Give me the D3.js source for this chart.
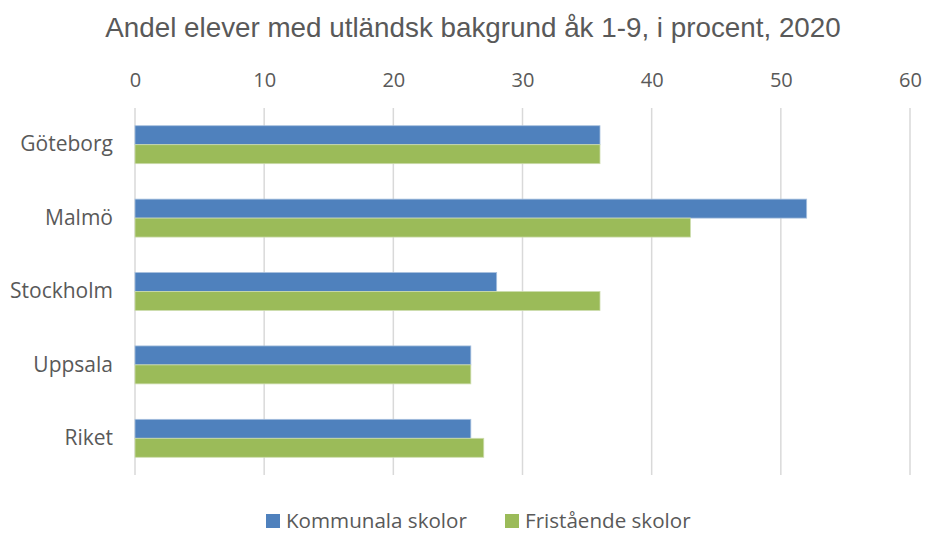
<!DOCTYPE html>
<html>
<head>
<meta charset="utf-8">
<script src="https://cdn.jsdelivr.net/npm/d3@7"></script>
<style>
  body { margin: 0; background: #fff; }
  text { font-family: "Open Sans", sans-serif; fill: #595959; }
</style>
</head>
<body>
<svg id="chart" width="925" height="535"></svg>
<script>
const cities = ["Göteborg", "Malmö", "Stockholm", "Uppsala", "Riket"];
const seriesNames = ["Kommunala skolor", "Fristående skolor"];
const kommunala = [36, 52, 28, 26, 26];
const fristaende = [36, 43, 36, 26, 27];
const xTicks = [0, 10, 20, 30, 40, 50, 60];
const colors = ["#4F81BD", "#9BBB59"];

const svg = d3.select("#chart"),
  margin = {top: 108, right: 15, bottom: 60, left: 135},
  width = +svg.attr("width") - margin.left - margin.right,
  height = +svg.attr("height") - margin.top - margin.bottom,
  g = svg.append("g").attr("transform", `translate(${margin.left},${margin.top})`);

const x = d3.scaleLinear().domain([0, 60]).range([0, width]);
const y = d3.scaleBand().domain(cities).range([0, height]).paddingInner(0.483).paddingOuter(0.2415);
const y1 = d3.scaleBand().domain(seriesNames).range([0, y.bandwidth()]);

// gridlines
g.append("g")
  .selectAll("line")
  .data(xTicks)
  .join("line")
  .attr("x1", d => x(d)).attr("x2", d => x(d))
  .attr("y1", 0).attr("y2", height)
  .attr("stroke", "#d9d9d9")
  .attr("stroke-width", 1.5);

// top axis labels
const xAxis = g.append("g")
  .call(d3.axisTop(x).tickValues(xTicks).tickSize(0).tickPadding(21));
xAxis.select(".domain").remove();
xAxis.selectAll("text").style("font-size", "20px").attr("fill", "#595959");

const rows = cities.map((c, i) => ({city: c, values: [kommunala[i], fristaende[i]]}));

g.append("g")
  .selectAll("g")
  .data(rows)
  .join("g")
  .attr("transform", d => `translate(0,${y(d.city)})`)
  .selectAll("rect")
  .data(d => d.values.map((v, j) => ({name: seriesNames[j], value: v, j})))
  .join("rect")
  .attr("x", x(0))
  .attr("y", d => y1(d.name))
  .attr("width", d => x(d.value) - x(0))
  .attr("height", y1.bandwidth())
  .attr("fill", d => colors[d.j])
  .attr("stroke", d => d.j === 0 ? "#a7c0de" : "#cddcad")
  .attr("stroke-width", 0.8);

// category labels
const yAxis = g.append("g")
  .call(d3.axisLeft(y).tickSize(0).tickPadding(22));
yAxis.select(".domain").remove();
yAxis.selectAll("text").style("font-size", "21px").attr("fill", "#595959");

// title
svg.append("text")
  .attr("x", 473)
  .attr("y", 37)
  .attr("text-anchor", "middle")
  .style("font-family", "'Liberation Sans', Arial, sans-serif")
  .style("font-size", "27.8px")
  .text("Andel elever med utländsk bakgrund åk 1-9, i procent, 2020");

// legend
const legendX = [266, 505];
const legend = svg.append("g")
  .selectAll("g")
  .data(seriesNames)
  .join("g")
  .attr("transform", (d, i) => `translate(${legendX[i]},514)`);
legend.append("rect")
  .attr("width", 14).attr("height", 14)
  .attr("fill", (d, i) => colors[i]);
legend.append("text")
  .attr("x", 20)
  .attr("y", 14)
  .style("font-size", "20.6px")
  .text(d => d);
</script>
</body>
</html>
